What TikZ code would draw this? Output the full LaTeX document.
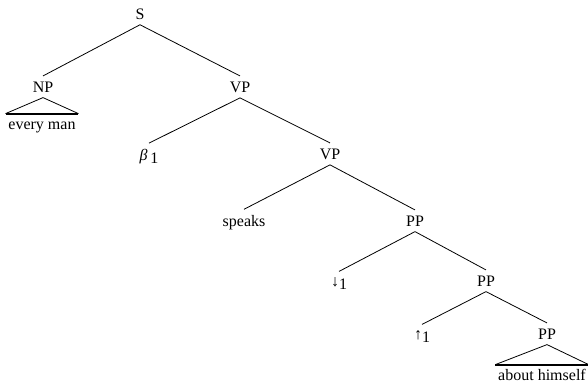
\documentclass[tikz,border=0pt]{standalone}
\usepackage{fontspec}
\setmainfont{Liberation Serif}
\newcommand{\lowidx}[1]{\raisebox{-0.45ex}{#1}}
\tikzset{
    % category labels, set on their baseline
    cat/.style={
        anchor=base,
        inner sep=4pt
    },
    % words under a roof
    leaf/.style={
        anchor=base,
        text height=8pt,
        inner xsep=2pt
    },
    % tree lines
    branch/.style={
        line width=0.6pt,
        draw=black
    },
    roofbase/.style={
        line width=1.5pt,
        draw=black
    }
}

\begin{document}
\begin{tikzpicture}[x=0.75pt, y=-0.75pt, font=\fontsize{12}{14}\selectfont]
    \useasboundingbox (0,0) rectangle (588,387);

    \node[cat] (s) at (140,19) {S};

    \node[cat] (np) at (43,92) {NP};
    \node[cat] (vp) at (240,92) {VP};
    \node[leaf] (everyman) at (42,129) {every man};

    \node[cat] (beta) at (149,160) {{\itshape β}\,\lowidx{1}};
    \node[cat] (vpb) at (330,159) {VP};

    \node[cat] (speaks) at (244,226) {speaks};
    \node[cat] (pp) at (415,226) {PP};

    \node[cat] (down) at (339,286) {↓\lowidx{1}};
    \node[cat] (ppb) at (486,286) {PP};

    \node[cat] (up) at (422,339) {↑\lowidx{1}};
    \node[cat] (ppc) at (547,339) {PP};
    \node[leaf] (himself) at (542,380) {about himself};

    \draw[branch] (s.south) -- (np.north);
    \draw[branch] (s.south) -- (vp.north);
    \draw[branch] (vp.south) -- (beta.north);
    \draw[branch] (vp.south) -- (vpb.north);
    \draw[branch] (vpb.south) -- (speaks.north);
    \draw[branch] (vpb.south) -- (pp.north);
    \draw[branch] (pp.south) -- (down.north);
    \draw[branch] (pp.south) -- (ppb.north);
    \draw[branch] (ppb.south) -- (up.north);
    \draw[branch] (ppb.south) -- (ppc.north);

    % roofs
    \draw[branch] (everyman.north west) -- (np.south) -- (everyman.north east);
    \draw[roofbase] (everyman.north west) -- (everyman.north east);
    \draw[branch] (himself.north west) -- (ppc.south) -- (himself.north east);
    \draw[roofbase] (himself.north west) -- (himself.north east);
\end{tikzpicture}
\end{document}
